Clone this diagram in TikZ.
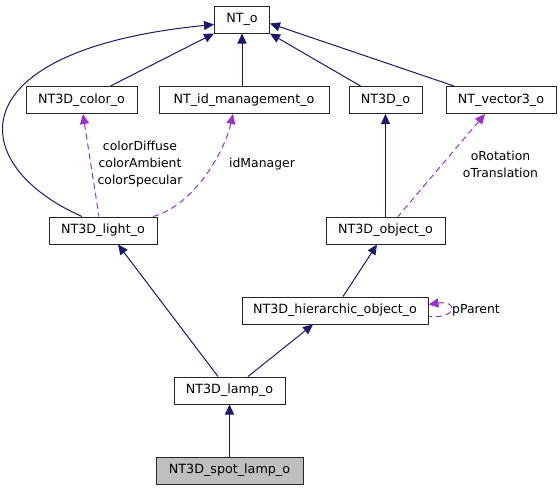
\documentclass[tikz,border=0pt]{standalone}
\usepackage{fontspec}
\setmainfont{DejaVu Sans}
\usetikzlibrary{arrows.meta}
\definecolor{navyline}{RGB}{25,25,112}
\definecolor{orchidline}{RGB}{153,50,204}

\begin{document}
\begin{tikzpicture}[x=1pt, y=-1pt, line width=1pt,
  cls/.style={draw=black!85, fill=white, minimum height=27pt, inner sep=0pt, font=\fontsize{12.7}{15}\selectfont},
  inh/.style={draw=navyline, {Triangle[length=10pt,width=9pt]}-},
  usedby/.style={draw=orchidline, dash pattern=on 6pt off 4pt, {Triangle[length=10pt,width=9pt]}-},
  lbl/.style={align=center, inner sep=0pt, font=\fontsize{12.4}{17}\selectfont}]
  \useasboundingbox (0,0) rectangle (560,491);

  \node[cls, minimum width=55pt]  (nto)   at (242,19.5)  {NT\_o};
  \node[cls, minimum width=111pt] (color) at (81.5,100)  {NT3D\_color\_o};
  \node[cls, minimum width=170pt] (idm)   at (244,100)   {NT\_id\_management\_o};
  \node[cls, minimum width=73pt]  (nt3d)  at (385.5,100) {NT3D\_o};
  \node[cls, minimum width=110pt] (vec)   at (501,100)   {NT\_vector3\_o};
  \node[cls, minimum width=108pt] (light) at (103,230.5) {NT3D\_light\_o};
  \node[cls, minimum width=119pt] (obj)   at (385.5,230.5) {NT3D\_object\_o};
  \node[cls, minimum width=186pt] (hier)  at (335,310.5) {NT3D\_hierarchic\_object\_o};
  \node[cls, minimum width=111pt] (lamp)  at (229.5,390.5) {NT3D\_lamp\_o};
  \node[cls, minimum width=147pt, fill=black!25] (spot) at (229.5,470.5) {NT3D\_spot\_lamp\_o};

  % Vererbung
  \draw[inh] ([yshift=-5pt]nto.west) .. controls (-45,50) and (-35,165) .. ([xshift=-21pt]light.north);
  \draw[inh] (nto.south west) -- ([xshift=29pt]color.north);
  \draw[inh] (nto.south) -- (nto.south |- idm.north);
  \draw[inh] (nto.south east) -- ([xshift=-25pt]nt3d.north);
  \draw[inh] ([yshift=-4pt]nto.east) -- ([xshift=-47pt]vec.north);
  \draw[inh] (nt3d.south) -- (obj.north);
  \draw[inh] ([xshift=-8.5pt]obj.south) -- ([xshift=8pt]hier.north);
  \draw[inh] ([xshift=15pt]light.south) -- ([xshift=-11.5pt]lamp.north);
  \draw[inh] ([xshift=-22pt]hier.south) -- ([xshift=18.5pt]lamp.north);
  \draw[inh] (lamp.south) -- (spot.north);

  % Member
  \draw[usedby] ([xshift=1.5pt]color.south) -- ([xshift=-4pt]light.north);
  \draw[usedby] ([xshift=-11pt]idm.south) .. controls (225,150) and (195,205) .. ([xshift=50pt]light.north);
  \draw[usedby] ([xshift=-16pt]vec.south) -- ([xshift=12.5pt]obj.north);
  \draw[usedby] ([yshift=6pt]hier.east) .. controls (458,300) and (458,319) .. ([yshift=-6pt]hier.east);

  \node[lbl] (lcol) at (140,164) {colorDiffuse\\colorAmbient\\colorSpecular};
  \node[lbl] (lidm) at (262,164) {idManager};
  \node[lbl] (lvec) at (500.5,164.5) {oRotation\\oTranslation};
  \node[lbl] (lpar) at (476,310) {pParent};
\end{tikzpicture}
\end{document}
